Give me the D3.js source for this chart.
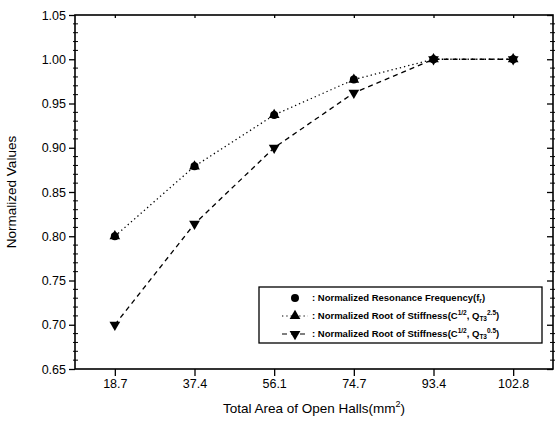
<!DOCTYPE html>
<html lang="en">
<head>
<meta charset="utf-8">
<script src="https://cdn.jsdelivr.net/npm/d3@7"></script>
<style>
body { margin: 0; background: #fff; }
text { font-family: Arial, "Liberation Sans", sans-serif; fill: #000; }
</style>
</head>
<body>
<script>
// chart data
var areas = ["18.7", "37.4", "56.1", "74.7", "93.4", "102.8"];
var resonance = [0.80, 0.879, 0.937, 0.977, 1.0, 1.0];
var rootStiffA = [0.80, 0.879, 0.937, 0.977, 1.0, 1.0];
var rootStiffB = [0.70, 0.814, 0.90, 0.962, 1.0, 1.0];
var yTicks = [0.65, 0.70, 0.75, 0.80, 0.85, 0.90, 0.95, 1.00, 1.05];

var width = 557, height = 423;
var plotL = 75, plotR = 553, plotT = 15, plotB = 369;

var svg = d3.select("body").append("svg")
  .attr("width", width).attr("height", height);

var x = d3.scalePoint().domain(areas).range([plotL, plotR]).padding(0.5);
var y = d3.scaleLinear().domain([0.65, 1.05]).range([plotB, plotT]);

// minor ticks (every 0.01) on left and right
var minor = d3.range(66, 105).map(function(d) { return d / 100; })
  .filter(function(d) { return Math.round(d * 100) % 5 != 0; });

svg.append("g").selectAll("line").data(minor).enter().append("line")
  .attr("x1", plotL - 2).attr("x2", plotL + 3)
  .attr("y1", function(d) { return y(d); }).attr("y2", function(d) { return y(d); })
  .attr("stroke", "#000").attr("stroke-width", 1);
svg.append("g").selectAll("line").data(minor).enter().append("line")
  .attr("x1", plotR - 3).attr("x2", plotR + 2)
  .attr("y1", function(d) { return y(d); }).attr("y2", function(d) { return y(d); })
  .attr("stroke", "#000").attr("stroke-width", 1);

// axes
var yAxis = d3.axisLeft(y).tickValues(yTicks).tickFormat(d3.format(".2f")).tickSize(6).tickPadding(3);
var gy = svg.append("g").attr("transform", "translate(" + plotL + ",0)").call(yAxis);
var gyr = svg.append("g").attr("transform", "translate(" + plotR + ",0)")
  .call(d3.axisLeft(y).tickValues(yTicks).tickFormat("").tickSize(6));

var xAxis = d3.axisBottom(x).tickSize(7).tickPadding(3);
var gx = svg.append("g").attr("transform", "translate(0," + plotB + ")").call(xAxis);
var gxt = svg.append("g").attr("transform", "translate(0," + plotT + ")")
  .call(d3.axisTop(x).tickFormat("").tickSize(-3));

[gy, gyr, gx, gxt].forEach(function(g) {
  g.select(".domain").remove();
  g.selectAll("line").attr("stroke", "#000").attr("stroke-width", 1.3);
  g.selectAll("text").style("font-size", "12.5px").attr("fill", "#000");
});

// frame
svg.append("rect")
  .attr("x", plotL).attr("y", plotT)
  .attr("width", plotR - plotL).attr("height", plotB - plotT)
  .attr("fill", "none").attr("stroke", "#000").attr("stroke-width", 1.6);

// lines
var line = d3.line()
  .x(function(d, i) { return x(areas[i]); })
  .y(function(d) { return y(d); });

svg.append("path").datum(rootStiffA)
  .attr("d", line).attr("fill", "none").attr("stroke", "#000")
  .attr("stroke-width", 1.3).attr("stroke-dasharray", "1.3,3");
svg.append("path").datum(rootStiffB)
  .attr("d", line).attr("fill", "none").attr("stroke", "#000")
  .attr("stroke-width", 1.3).attr("stroke-dasharray", "5,4");

// markers
var circ = d3.symbol().type(d3.symbolCircle).size(50);
var tri = d3.symbol().type(d3.symbolTriangle).size(50);

function markers(data, sym, rot) {
  svg.append("g").selectAll("path").data(data).enter().append("path")
    .attr("d", sym)
    .attr("transform", function(d, i) {
      return "translate(" + x(areas[i]) + "," + y(d) + ")" + (rot ? " rotate(180)" : "");
    })
    .attr("fill", "#000");
}
markers(resonance, circ, false);
markers(rootStiffA, tri, false);
markers(rootStiffB, tri, true);

// legend
var lg = svg.append("g");
lg.append("rect").attr("x", 259).attr("y", 287).attr("width", 283).attr("height", 56)
  .attr("fill", "#fff").attr("stroke", "#000").attr("stroke-width", 1.3);

var legendItems = [
  { sym: circ, rot: false, dash: null, y: 298 },
  { sym: tri, rot: false, dash: "1.3,3", y: 316 },
  { sym: tri, rot: true, dash: "5,4", y: 334 }
];
legendItems.forEach(function(d) {
  if (d.dash) {
    lg.append("line").attr("x1", 282).attr("x2", 308).attr("y1", d.y).attr("y2", d.y)
      .attr("stroke", "#000").attr("stroke-width", 1.2).attr("stroke-dasharray", d.dash);
  }
  lg.append("path").attr("d", d.sym)
    .attr("transform", "translate(295," + d.y + ")" + (d.rot ? " rotate(180)" : ""))
    .attr("fill", "#000");
});

function legendText(yy, parts) {
  var t = lg.append("text").attr("x", 312).attr("y", yy + 3)
    .style("font-size", "9.5px").style("font-weight", "bold");
  parts.forEach(function(p) {
    var s = t.append("tspan").text(p[0]);
    if (p[1] == "sub") s.attr("dy", 2).style("font-size", "6.5px");
    if (p[1] == "sup") s.attr("dy", -4).style("font-size", "6.5px");
    if (p[2]) s.attr("dy", p[2]);
  });
}
legendText(298, [[": Normalized Resonance Frequency(f"], ["r", "sub"], [")", null, -2]]);
legendText(316, [[": Normalized Root of Stiffness(C"], ["1/2", "sup"], [", Q", null, 4],
  ["T3", "sub"], ["2.5", "sup", -6], [")", null, 4]]);
legendText(334, [[": Normalized Root of Stiffness(C"], ["1/2", "sup"], [", Q", null, 4],
  ["T3", "sub"], ["0.5", "sup", -6], [")", null, 4]]);

// axis titles
var xt = svg.append("text").attr("x", 314).attr("y", 413)
  .attr("text-anchor", "middle").style("font-size", "13.5px");
xt.append("tspan").text("Total Area of Open Halls(mm");
xt.append("tspan").text("2").attr("dy", -6).style("font-size", "9px");
xt.append("tspan").text(")").attr("dy", 6);

svg.append("text")
  .attr("transform", "translate(16," + (plotT + plotB) / 2 + ") rotate(-90)")
  .attr("text-anchor", "middle").style("font-size", "13.5px")
  .text("Normalized Values");
</script>
</body>
</html>
